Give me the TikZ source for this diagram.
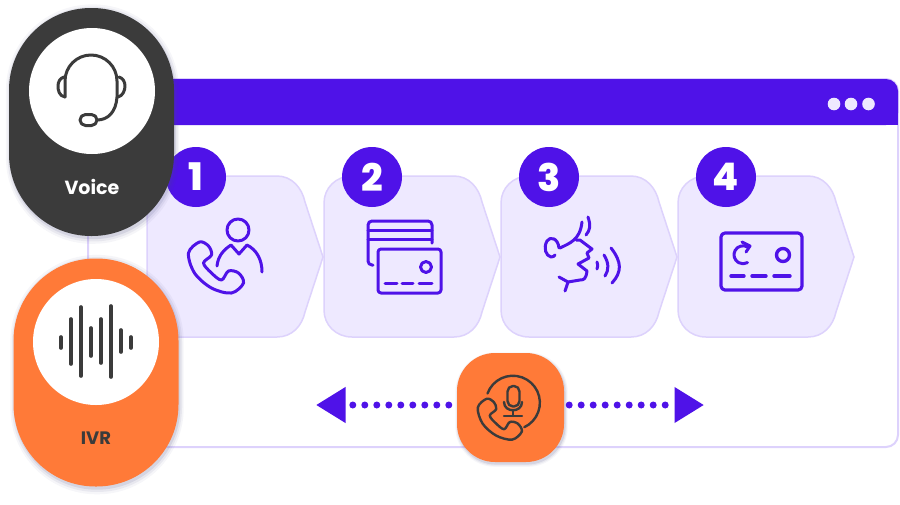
\documentclass[tikz,border=0pt]{standalone}
\usepackage{fontspec}
\setmainfont{Poppins}[BoldFont={Poppins Bold}]
\newfontfamily\numfont{Poppins ExtraBold}
\usetikzlibrary{arrows.meta,shadows}
\definecolor{brandpurple}{HTML}{4F12E8}
\definecolor{stepfill}{HTML}{EEE9FF}
\definecolor{stepline}{HTML}{DDD2FC}
\definecolor{brandorange}{HTML}{FF7A38}
\definecolor{darkgrey}{HTML}{3B3B3B}
\definecolor{shadowblue}{HTML}{4A4A80}
\tikzset{
    softshadow/.style={
        general shadow={shadow xshift=1pt,shadow yshift=-2pt,shadow scale=1.05,fill=shadowblue,opacity=.05},
        general shadow={shadow xshift=1pt,shadow yshift=-2pt,shadow scale=1.03,fill=shadowblue,opacity=.08},
        general shadow={shadow xshift=1pt,shadow yshift=-2pt,shadow scale=1.01,fill=shadowblue,opacity=.12}},
    pill/.style={rectangle,rounded corners=82pt,minimum width=165pt,minimum height=228pt,inner sep=0pt,softshadow},
    whitedisc/.style={circle,fill=white,minimum size=126pt,inner sep=0pt},
    numberdisc/.style={circle,fill=brandpurple,text=white,minimum size=60pt,inner sep=0pt,font=\numfont\fontsize{38}{38}\selectfont},
    stepbox/.style={draw=stepline,fill=stepfill,line width=1.5pt},
    iconline/.style={draw=brandpurple,line width=3pt,line cap=round,line join=round},
    greyline/.style={draw=darkgrey,line width=3pt,line cap=round,line join=round},
    dotline/.style={brandpurple,line width=7pt,line cap=round,dash pattern=on 0pt off 12pt,dash phase=7pt,
        -{Triangle[length=29.5pt,width=34pt]}},
    handset/.pic={
        \draw[pic actions] plot[smooth cycle,tension=.55] coordinates
            {(12,1) (1,12) (7,32) (24,47) (44,52) (56,42) (51,32) (41,30) (34,39) (24,32) (16,22) (24,14) (21,5)};
    }
}
\begin{document}
\begin{tikzpicture}[x=1pt,y=-1pt]
    \useasboundingbox (0,0) rectangle (900,504);
    % window
    \draw[stepline,line width=2pt,fill=white,rounded corners=12pt] (88,79) rectangle (898,447);
    \fill[brandpurple,rounded corners=12pt] (88,125) -- (88,79) -- (898,79) -- (898,125) -- cycle;
    \fill[brandpurple] (88,110) rectangle (898,125);
    \foreach \x in {834,851,868.5}{
        \fill[stepfill] (\x,104) circle[radius=6.3pt];
    }
    % steps
    \foreach \x/\n in {0/1,177/2,354/3,531/4}{
        \begin{scope}[xshift=\x pt]
            \draw[stepbox] (175,176) -- (277,176) .. controls (292,176) and (302,188) .. (305,202)
                -- (323,257) -- (305,312) .. controls (302,326) and (292,337) .. (277,337) -- (175,337)
                .. controls (159,337) and (147,325) .. (147,310) -- (147,203)
                .. controls (147,188) and (159,176) .. (175,176) -- cycle;
        \end{scope}
    }
    \foreach \x/\n in {196/1,372/2,549/3,726/4}{
        \node[numberdisc] (num\n) at (\x,177) {\n};
    }
    % step 1
    \pic[iconline] at (187.5,241) {handset};
    \draw[iconline] (238,230) circle[radius=11pt];
    \draw[iconline] (217,266) .. controls (218,255) and (225,249) .. (231,245) -- (239,254) -- (247,245)
        .. controls (257,250) and (262,260) .. (262,272);
    % step 2
    \draw[iconline,rounded corners=3pt] (378,249) rectangle (441,293);
    \draw[iconline] (426,267) circle[radius=5.5pt];
    \foreach \a/\b in {385/397,402/413,419/432}{
        \draw[iconline] (\a,283) -- (\b,283);
    }
    \draw[iconline,rounded corners=4pt] (432,243) -- (432,221) -- (368,221) -- (368,265) -- (373,265);
    \draw[iconline] (368,230) -- (432,230) (368,239) -- (432,239);
    % step 3
    \draw[iconline] (559,248) .. controls (558,238) and (550,236) .. (547,241)
        .. controls (543,248) and (546,256) .. (551,257) .. controls (553,257) and (555,256) .. (555,255);
    \draw[iconline] (560,248) .. controls (570,243) and (580,240) .. (582,222);
    \draw[iconline] (576,240) -- (580,240) -- (592,249) -- (587,253) -- (589,258) -- (578,264) -- (587,271)
        .. controls (586,279) and (584,280) .. (580,280) -- (568,282) -- (559,277);
    \draw[iconline] (568,282) -- (565,291);
    \draw[iconline] (588,217) .. controls (591,226) and (590,230) .. (586,235);
    \draw[iconline] (597,262) .. controls (598,265) and (598,266) .. (597,269);
    \draw[iconline] (604,255) .. controls (609,263) and (609,270) .. (605,276);
    \draw[iconline] (611,248) .. controls (622,262) and (622,272) .. (612,283);
    % step 4
    \draw[iconline,line width=3.2pt,rounded corners=4pt] (721,233) rectangle (802,290);
    \draw[iconline,line width=3.4pt] (783,255) circle[radius=6.5pt];
    \foreach \a/\b in {731/744,752/766,774/790}{
        \draw[iconline,line width=3.4pt] (\a,276) -- (\b,276);
    }
    \draw[iconline] (747.5,247) arc[start angle=60,end angle=300,radius=9pt];
    \draw[iconline] (742,242) -- (750,246) -- (746,252);
    % voice
    \node[pill,fill=darkgrey] (voice) at (91.5,122) {};
    \node[whitedisc] (voicedisc) at (92,91) {};
    \node[text=white,font=\bfseries\fontsize{19}{19}\selectfont] (voicelabel) at (92,187) {Voice};
    \draw[greyline] (65,97) -- (65,81) arc[start angle=180,end angle=0,radius=26pt] -- (117,97)
        .. controls (116,112) and (108,120) .. (97,120);
    \draw[greyline] (65,97) .. controls (59,96) and (58,90) .. (58,86) .. controls (58,82) and (60,78) .. (64,77);
    \draw[greyline] (119,77) .. controls (123,78) and (125,82) .. (125,86) .. controls (125,90) and (123,96) .. (118,97);
    \draw[greyline,rounded corners=5.5pt] (80,114.5) rectangle (97,125.5);
    % ivr
    \node[pill,fill=brandorange] (ivr) at (96,372.5) {};
    \node[whitedisc] (ivrdisc) at (96,342) {};
    \node[text=darkgrey,font=\bfseries\fontsize{18}{18}\selectfont] (ivrlabel) at (96,438) {IVR};
    \foreach \x/\a/\b in {61/337/348,71/319/364,81/307/376,91/328/356,101/319/363,111/306/377,121/330/352,131/337/348}{
        \draw[darkgrey,line width=3.6pt,line cap=round] (\x,\a) -- (\x,\b);
    }
    % mic
    \node[rectangle,rounded corners=38pt,fill=brandorange,minimum width=107pt,minimum height=109pt,inner sep=0pt,softshadow] (mic) at (510.5,407.5) {};
    \coordinate (leftend) at (316,405);
    \coordinate (rightend) at (704,405);
    \draw[dotline,dash phase=4pt] (leftend -| mic.west) -- (leftend);
    \draw[dotline] (rightend -| mic.east) -- (rightend);
    \pic[greyline,line width=2.4pt,scale=.8] at (477,398) {handset};
    \draw[greyline,line width=2.4pt] (487.5,393.5) arc[start angle=160,end angle=-65,radius=27pt];
    \draw[greyline,line width=2.4pt,rounded corners=5.5pt] (507.5,386) rectangle (519.5,406.5);
    \draw[greyline,line width=2.4pt] (504,402) .. controls (504,413) and (522,413) .. (522,402);
    \draw[greyline,line width=2.4pt] (513,410) -- (513,416) (504,416) -- (522,416);
\end{tikzpicture}
\end{document}
